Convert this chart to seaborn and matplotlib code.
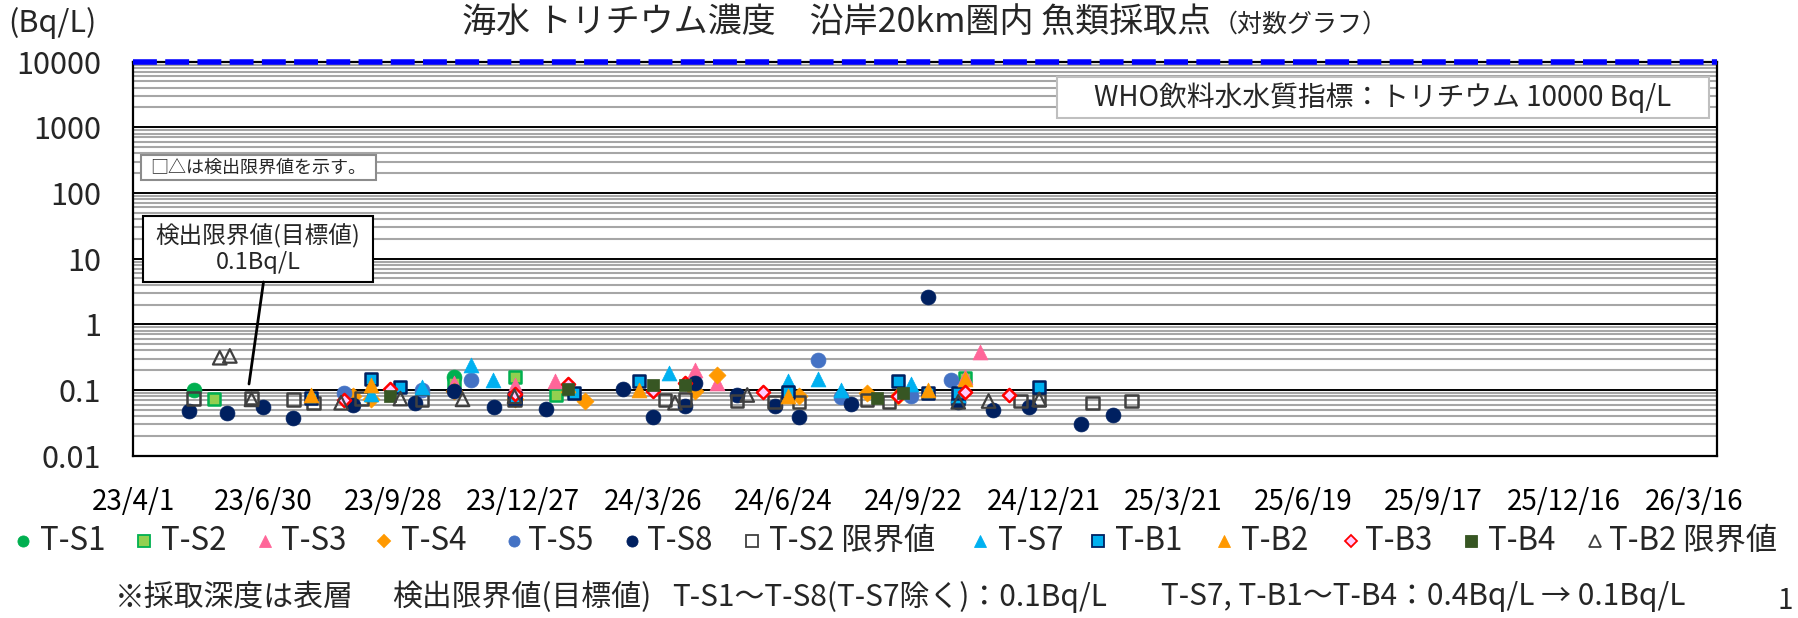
import matplotlib
matplotlib.use("Agg")
import matplotlib.pyplot as plt
import matplotlib.dates as mdates
from matplotlib.ticker import FixedLocator, NullFormatter, FuncFormatter
from matplotlib.lines import Line2D
from matplotlib.patches import Rectangle
import seaborn as sns
import pandas as pd
import numpy as np

sns.set_theme(style="white")
plt.rcParams["font.family"] = ["Noto Sans CJK JP", "DejaVu Sans"]

# ---------------- data ----------------
ts1_dates = ["2023-05-13", "2023-11-09"]
ts1_vals = [0.10, 0.16]

ts2_dates = ["2023-05-27", "2023-11-09", "2023-12-21", "2024-01-19", "2024-10-28"]
ts2_vals = [0.074, 0.13, 0.16, 0.085, 0.15]

ts3_dates = ["2023-11-09", "2023-12-21", "2024-01-18", "2024-04-24", "2024-05-09",
             "2024-10-28", "2024-11-07"]
ts3_vals = [0.13, 0.12, 0.135, 0.205, 0.13, 0.16, 0.385]

ts4_dates = ["2023-08-31", "2023-09-13", "2023-11-09", "2023-12-21", "2024-02-08",
             "2024-04-24", "2024-05-09", "2024-07-05", "2024-08-21", "2024-09-11"]
ts4_vals = [0.082, 0.074, 0.095, 0.072, 0.068, 0.095, 0.17, 0.081, 0.09, 0.08]

ts5_dates = ["2023-08-25", "2023-10-18", "2023-11-21", "2024-07-18", "2024-08-03",
             "2024-09-20", "2024-10-18"]
ts5_vals = [0.091, 0.10, 0.14, 0.29, 0.077, 0.08, 0.14]

ts8_dates = ["2023-05-10", "2023-06-05", "2023-06-30", "2023-07-21", "2023-08-31",
             "2023-10-13", "2023-11-09", "2023-12-07", "2024-01-12", "2024-03-05",
             "2024-03-26", "2024-04-17", "2024-04-24", "2024-05-23", "2024-06-18",
             "2024-07-05", "2024-08-10", "2024-10-02", "2024-10-23", "2024-11-16",
             "2024-12-11", "2025-01-16", "2025-02-07"]
ts8_vals = [0.048, 0.045, 0.056, 0.037, 0.06, 0.063, 0.097, 0.055, 0.052, 0.105,
            0.039, 0.058, 0.13, 0.085, 0.058, 0.039, 0.061, 2.6, 0.065, 0.049,
            0.055, 0.030, 0.042]

ts2dl_dates = ["2023-05-13", "2023-06-22", "2023-07-21", "2023-08-04", "2023-09-06",
               "2023-10-18", "2023-12-21", "2024-04-03", "2024-04-17", "2024-05-23",
               "2024-06-18", "2024-07-05", "2024-08-21", "2024-09-05", "2024-12-05",
               "2024-12-18", "2025-01-24", "2025-02-20"]
ts2dl_vals = [0.074, 0.076, 0.072, 0.063, 0.074, 0.07, 0.072, 0.07, 0.072, 0.068,
              0.066, 0.066, 0.07, 0.066, 0.068, 0.07, 0.063, 0.068]

ts7_dates = ["2023-09-13", "2023-10-18", "2023-11-21", "2023-12-06", "2024-04-06",
             "2024-06-27", "2024-07-18", "2024-08-03", "2024-09-20", "2024-10-23"]
ts7_vals = [0.088, 0.11, 0.24, 0.14, 0.18, 0.137, 0.145, 0.10, 0.125, 0.085]

tb1_dates = ["2023-08-02", "2023-09-13", "2023-10-03", "2023-12-21", "2024-01-31",
             "2024-03-16", "2024-06-27", "2024-09-11", "2024-10-02", "2024-10-23",
             "2024-12-18"]
tb1_vals = [0.075, 0.146, 0.11, 0.075, 0.09, 0.137, 0.093, 0.137, 0.09, 0.09, 0.11]

tb2_dates = ["2023-08-02", "2023-09-13", "2024-01-27", "2024-03-16", "2024-06-27",
             "2024-10-02", "2024-10-28"]
tb2_vals = [0.085, 0.12, 0.12, 0.10, 0.081, 0.10, 0.145]

tb3_dates = ["2023-08-25", "2023-09-26", "2023-12-21", "2024-01-27", "2024-03-26",
             "2024-04-17", "2024-06-10", "2024-09-11", "2024-10-28", "2024-11-27"]
tb3_vals = [0.07, 0.105, 0.088, 0.125, 0.095, 0.13, 0.092, 0.08, 0.093, 0.084]

tb4_dates = ["2023-09-26", "2024-01-27", "2024-03-26", "2024-04-17", "2024-08-28",
             "2024-09-15"]
tb4_vals = [0.08, 0.105, 0.12, 0.12, 0.075, 0.09]

tb2dl_dates = ["2023-05-31", "2023-06-07", "2023-06-22", "2023-08-23", "2023-10-03",
               "2023-11-15", "2023-12-21", "2024-04-10", "2024-05-30", "2024-10-23",
               "2024-11-13", "2024-12-18"]
tb2dl_vals = [0.31, 0.33, 0.072, 0.064, 0.074, 0.072, 0.08, 0.064, 0.084, 0.066,
              0.068, 0.072]

who_limit = 10000
x_start, x_end = "2023-04-01", "2026-04-01"
y_ticks = [0.01, 0.1, 1, 10, 100, 1000, 10000]
y_tick_labels = ["0.01", "0.1", "1", "10", "100", "1000", "10000"]

series_names = ["T-S1", "T-S2", "T-S3", "T-S4", "T-S5", "T-S8", "T-S2 限界値",
                "T-S7", "T-B1", "T-B2", "T-B3", "T-B4", "T-B2 限界値"]
series_data = [(ts1_dates, ts1_vals), (ts2_dates, ts2_vals), (ts3_dates, ts3_vals),
               (ts4_dates, ts4_vals), (ts5_dates, ts5_vals), (ts8_dates, ts8_vals),
               (ts2dl_dates, ts2dl_vals), (ts7_dates, ts7_vals), (tb1_dates, tb1_vals),
               (tb2_dates, tb2_vals), (tb3_dates, tb3_vals), (tb4_dates, tb4_vals),
               (tb2dl_dates, tb2dl_vals)]

frames = []
for name, (d, v) in zip(series_names, series_data):
    frames.append(pd.DataFrame({"date": pd.to_datetime(d), "value": v, "series": name}))
df = pd.concat(frames, ignore_index=True)

# ---------------- styles ----------------
styles = {
    "T-S1": dict(marker="o", face="#00B050", edge="#00B050", s=115, lw=0.5),
    "T-S2": dict(marker="s", face="#92D050", edge="#00B050", s=80, lw=1.8),
    "T-S3": dict(marker="^", face="#FF6699", edge="#FF6699", s=115, lw=0.5),
    "T-S4": dict(marker="D", face="#FF9900", edge="#FF9900", s=75, lw=0.5),
    "T-S5": dict(marker="o", face="#4472C4", edge="#4472C4", s=115, lw=0.5),
    "T-S8": dict(marker="o", face="#002060", edge="#002060", s=115, lw=0.5),
    "T-S2 限界値": dict(marker="s", face="none", edge="#404040", s=80, lw=1.8),
    "T-S7": dict(marker="^", face="#00B0F0", edge="#00B0F0", s=115, lw=0.5),
    "T-B1": dict(marker="s", face="#00B0F0", edge="#002060", s=85, lw=1.8),
    "T-B2": dict(marker="^", face="#FF9900", edge="#FF9900", s=115, lw=0.5),
    "T-B3": dict(marker="D", face="#FFCCFF", edge="#FF0000", s=45, lw=1.8),
    "T-B4": dict(marker="s", face="#375623", edge="#375623", s=85, lw=0.5),
    "T-B2 限界値": dict(marker="^", face="none", edge="#404040", s=95, lw=1.6),
}

W, H = 1798, 618
fig = plt.figure(figsize=(W / 100, H / 100), dpi=100)
ax_l, ax_r, ax_t, ax_b = 133, 1717, 61.5, 455.7
ax = fig.add_axes([ax_l / W, 1 - ax_b / H, (ax_r - ax_l) / W, (ax_b - ax_t) / H])

for i, name in enumerate(series_names):
    st = styles[name]
    sub = df[df["series"] == name]
    sns.scatterplot(data=sub, x="date", y="value", ax=ax, marker=st["marker"],
                    s=st["s"], color=st["edge"], facecolor=st["face"],
                    edgecolor=st["edge"], linewidth=st["lw"], zorder=3 + i * 0.01,
                    legend=False)

ax.set_yscale("log")
ax.set_ylim(0.01, 10000)
ax.set_xlim(pd.Timestamp(x_start), pd.Timestamp(x_end))
ax.set_xlabel("")
ax.set_ylabel("")

ax.yaxis.set_major_locator(FixedLocator(y_ticks))
ax.yaxis.set_major_formatter(FuncFormatter(
    lambda v, p: y_tick_labels[int(np.argmin(np.abs(np.log10(y_ticks) - np.log10(v))))]))
ax.yaxis.set_minor_locator(matplotlib.ticker.LogLocator(base=10, subs=np.arange(2, 10)))
ax.yaxis.set_minor_formatter(NullFormatter())
ax.grid(False)
ax.yaxis.grid(True, which="minor", color="#a6a6a6", lw=1.5)
ax.yaxis.grid(True, which="major", color="black", lw=1.4)
ax.set_axisbelow(True)

major_dates = pd.date_range(x_start, periods=13, freq="90D")
minor_dates = pd.date_range(x_start, x_end, freq="30D")
ax.xaxis.set_major_locator(FixedLocator(mdates.date2num(major_dates)))
ax.xaxis.set_minor_locator(FixedLocator(mdates.date2num(minor_dates)))
ax.xaxis.set_major_formatter(FuncFormatter(
    lambda v, p: (lambda d: f"{d.year % 100}/{d.month}/{d.day}")(mdates.num2date(v))))
ax.xaxis.set_minor_formatter(NullFormatter())

ax.tick_params(axis="x", which="major", direction="inout", length=19, width=1.8,
               labelsize=20, pad=13, colors="black")
ax.tick_params(axis="x", which="minor", direction="out", length=9, width=1.5,
               colors="black")
ax.tick_params(axis="y", which="both", length=0, labelsize=22, pad=23)
for sp in ax.spines.values():
    sp.set_visible(True)
    sp.set_color("black")
    sp.set_linewidth(1.6)

# WHO guideline line
ax.axhline(who_limit, color="#0000FF", lw=4, dashes=(4.3, 1.5), clip_on=False, zorder=6)

# boxes and annotations (axes fraction)
def ax_frac(px, py):
    return (px - ax_l) / (ax_r - ax_l), (ax_b - py) / (ax_b - ax_t)

x0, y0 = ax_frac(1057, 118)
x1, y1 = ax_frac(1709, 77)
ax.add_patch(Rectangle((x0, y0), x1 - x0, y1 - y0, transform=ax.transAxes,
                       facecolor="white", edgecolor="#bfbfbf", lw=1.5, zorder=7))
ax.text((x0 + x1) / 2, (y0 + y1) / 2, "WHO飲料水水質指標：トリチウム 10000 Bq/L",
        transform=ax.transAxes, ha="center", va="center", fontsize=20, zorder=8)

x0, y0 = ax_frac(141, 180)
x1, y1 = ax_frac(376, 155)
ax.add_patch(Rectangle((x0, y0), x1 - x0, y1 - y0, transform=ax.transAxes,
                       facecolor="white", edgecolor="#8c8c8c", lw=1.5, zorder=7))
ax.text((x0 + x1) / 2, (y0 + y1) / 2, "□△は検出限界値を示す。",
        transform=ax.transAxes, ha="center", va="center", fontsize=13, zorder=8)

x0, y0 = ax_frac(143, 282)
x1, y1 = ax_frac(373, 216)
ax.add_patch(Rectangle((x0, y0), x1 - x0, y1 - y0, transform=ax.transAxes,
                       facecolor="white", edgecolor="black", lw=1.5, zorder=7))
ax.text((x0 + x1) / 2, (y0 + y1) / 2, "検出限界値(目標値)\n0.1Bq/L",
        transform=ax.transAxes, ha="center", va="center", fontsize=17,
        linespacing=1.15, zorder=8)
lx0, ly0 = ax_frac(263.5, 282)
lx1, ly1 = ax_frac(249, 384)
ax.plot([lx0, lx1], [ly0, ly1], transform=ax.transAxes, color="black", lw=2, zorder=7)

# titles
fig.text(1211 / W, 1 - 23 / H, "海水 トリチウム濃度　沿岸20km圏内 魚類採取点",
         ha="right", va="center", fontsize=24.5)
fig.text(1213 / W, 1 - 25 / H, "（対数グラフ）", ha="left", va="center", fontsize=18)
fig.text(8 / W, 1 - 23 / H, "(Bq/L)", ha="left", va="center", fontsize=22)

# legend (one row below the axis)
legend_y = 1 - 541 / H
legend_marker_x = [23, 143.5, 265, 383.5, 514, 631.5, 752, 980, 1098, 1224, 1350.6, 1471, 1594.6]
legend_text_x = [40, 161, 281, 401, 528, 647.5, 769, 997.6, 1115, 1241.5, 1365, 1488, 1609]
for name, mx, tx in zip(series_names, legend_marker_x, legend_text_x):
    st = styles[name]
    ms = 8 if st["marker"] != "D" else 6.5
    mew = 1.3 if (st["face"] == "none" or st["marker"] == "D" or st["face"] != st["edge"]) else 0.6
    fig.add_artist(Line2D([mx / W], [legend_y], transform=fig.transFigure, ls="none",
                          marker=st["marker"], markersize=ms, markerfacecolor=st["face"],
                          markeredgecolor=st["edge"], markeredgewidth=mew))
    fig.text(tx / W, legend_y, name, ha="left", va="center", fontsize=22.5)

# footnote
foot_y = 1 - 597 / H
foot_parts = ["※採取深度は表層", "検出限界値(目標値)", "T-S1～T-S8(T-S7除く)：0.1Bq/L",
              "T-S7, T-B1～T-B4：0.4Bq/L → 0.1Bq/L"]
foot_x = [115, 392, 672, 1161]
for txt, fx in zip(foot_parts, foot_x):
    fig.text(fx / W, foot_y, txt, ha="left", va="center", fontsize=21.5)
fig.text(1778 / W, 1 - 601 / H, "1", ha="left", va="center", fontsize=20)

fig.savefig("out.png", dpi=100)
